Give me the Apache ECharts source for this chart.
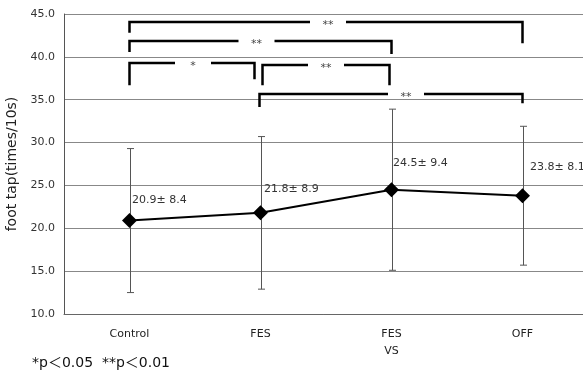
<!DOCTYPE html>
<html><head><meta charset="utf-8">
<script src="https://cdn.jsdelivr.net/npm/echarts@6/dist/echarts.min.js"></script>
<style>html,body{margin:0;padding:0;background:#fff;overflow:hidden}#c{width:583px;height:374px}</style>
</head><body><div id="c"></div>
<script>
var categories = ['Control', 'FES', 'FES\nVS', 'OFF'];
var means = [20.9, 21.8, 24.5, 23.8];
var sds = [8.4, 8.9, 9.4, 8.1];
var yTicks = [10, 15, 20, 25, 30, 35, 40, 45];
// significance brackets: [fromIndex, toIndex, lineValue, leftLegEnd, rightLegEnd]
var brackets = [
  [0, 3, 44.07, 42.8, 41.6],
  [0, 2, 41.85, 40.57, 40.33],
  [0, 1, 39.28, 36.7, 37.4],
  [1, 2, 39.05, 36.7, 36.7],
  [1, 3, 35.67, 34.15, 34.6]
];
var bracketMarks = ['**', '**', '*', '**', '**'];

// purely visual tweaks (pixels)
var bracketStyle = [
  {dl: 0, dr: 0, dx: 2},
  {dl: 0, dr: 0, dx: -4},
  {dl: 0, dr: -6, dx: 1},
  {dl: 2, dr: -2, dx: 0},
  {dl: -1, dr: 0, dx: 15}
];
var labelOffsets = [[-10, -20], [-9, -24], [-11, -27], [-5, -29]];

var errData = means.map(function (m, i) { return [i, m - sds[i], m + sds[i]]; });
var lineData = means.map(function (m, i) {
  return {
    value: m,
    label: {
      show: true, position: 'right', offset: labelOffsets[i],
      formatter: m.toFixed(1) + '± ' + sds[i].toFixed(1)
    }
  };
});

var chart = echarts.init(document.getElementById('c'), null, {renderer: 'canvas'});
chart.setOption({
  animation: false,
  textStyle: {fontFamily: 'DejaVu Sans'},
  grid: {left: 64, top: 14, width: 524, bottom: 60, containLabel: false, outerBoundsMode: 'none'},
  xAxis: {
    type: 'category', data: categories, boundaryGap: true,
    axisLine: {show: true, lineStyle: {color: '#666', width: 1}},
    axisTick: {show: false},
    axisLabel: {color: '#222', fontSize: 11, margin: 12, lineHeight: 17, fontFamily: 'DejaVu Sans'}
  },
  yAxis: {
    type: 'value', min: yTicks[0], max: yTicks[yTicks.length - 1], interval: 5,
    name: 'foot tap(times/10s)', nameLocation: 'middle', nameGap: 40,
    nameTextStyle: {fontSize: 14, color: '#222', fontFamily: 'DejaVu Sans'},
    axisLine: {show: true, lineStyle: {color: '#555', width: 1}},
    axisTick: {show: false},
    axisLabel: {color: '#333', fontSize: 11, margin: 9, formatter: function (v) { return v.toFixed(1); }},
    splitLine: {show: true, lineStyle: {color: '#888', width: 1}}
  },
  series: [
    {
      type: 'custom', z: 1, clip: false,
      data: errData,
      renderItem: function (params, api) {
        var lo = api.coord([api.value(0), api.value(1)]);
        var hi = api.coord([api.value(0), api.value(2)]);
        var x = Math.round(lo[0]) + 0.5, cw = 3.5;
        var st = {stroke: '#555', lineWidth: 1};
        return {type: 'group', children: [
          {type: 'line', shape: {x1: x, y1: lo[1], x2: x, y2: hi[1]}, style: st},
          {type: 'line', shape: {x1: x - cw, y1: lo[1], x2: x + cw, y2: lo[1]}, style: st},
          {type: 'line', shape: {x1: x - cw, y1: hi[1], x2: x + cw, y2: hi[1]}, style: st}
        ]};
      }
    },
    {
      type: 'line', z: 3, data: lineData,
      symbol: 'diamond', symbolSize: [15, 15],
      lineStyle: {color: '#000', width: 2},
      itemStyle: {color: '#000'},
      label: {color: '#333', fontSize: 11, fontFamily: 'DejaVu Sans'}
    },
    {
      type: 'custom', z: 4, clip: false,
      data: brackets,
      renderItem: function (params, api) {
        var i = params.dataIndex, s = bracketStyle[i];
        var a = api.coord([api.value(0), api.value(2)]);
        var b = api.coord([api.value(1), api.value(2)]);
        var la = api.coord([api.value(0), api.value(3)]);
        var lb = api.coord([api.value(1), api.value(4)]);
        var x1 = a[0] + s.dl, x2 = b[0] + s.dr, y = a[1];
        var cx = (x1 + x2) / 2 + s.dx;
        return {type: 'group', children: [
          {type: 'polyline', shape: {points: [[x1, la[1]], [x1, y], [x2, y], [x2, lb[1]]]},
            style: {stroke: '#000', lineWidth: 2.5, fill: null}},
          {type: 'rect', shape: {x: cx - 18, y: y - 4, width: 36, height: 8}, style: {fill: '#fff'}},
          {type: 'text', x: cx, y: y + 3,
            style: {text: bracketMarks[i], fill: '#444', fontSize: 11, align: 'center', verticalAlign: 'middle', fontFamily: 'DejaVu Sans'}}
        ]};
      }
    }
  ],
  graphic: [
    {type: 'text', left: 32, top: 356, style: {text: '*p＜0.05  **p＜0.01', fill: '#111', fontSize: 14, fontFamily: "'DejaVu Sans', 'Noto Sans CJK JP'"}}
  ]
});
</script></body></html>
